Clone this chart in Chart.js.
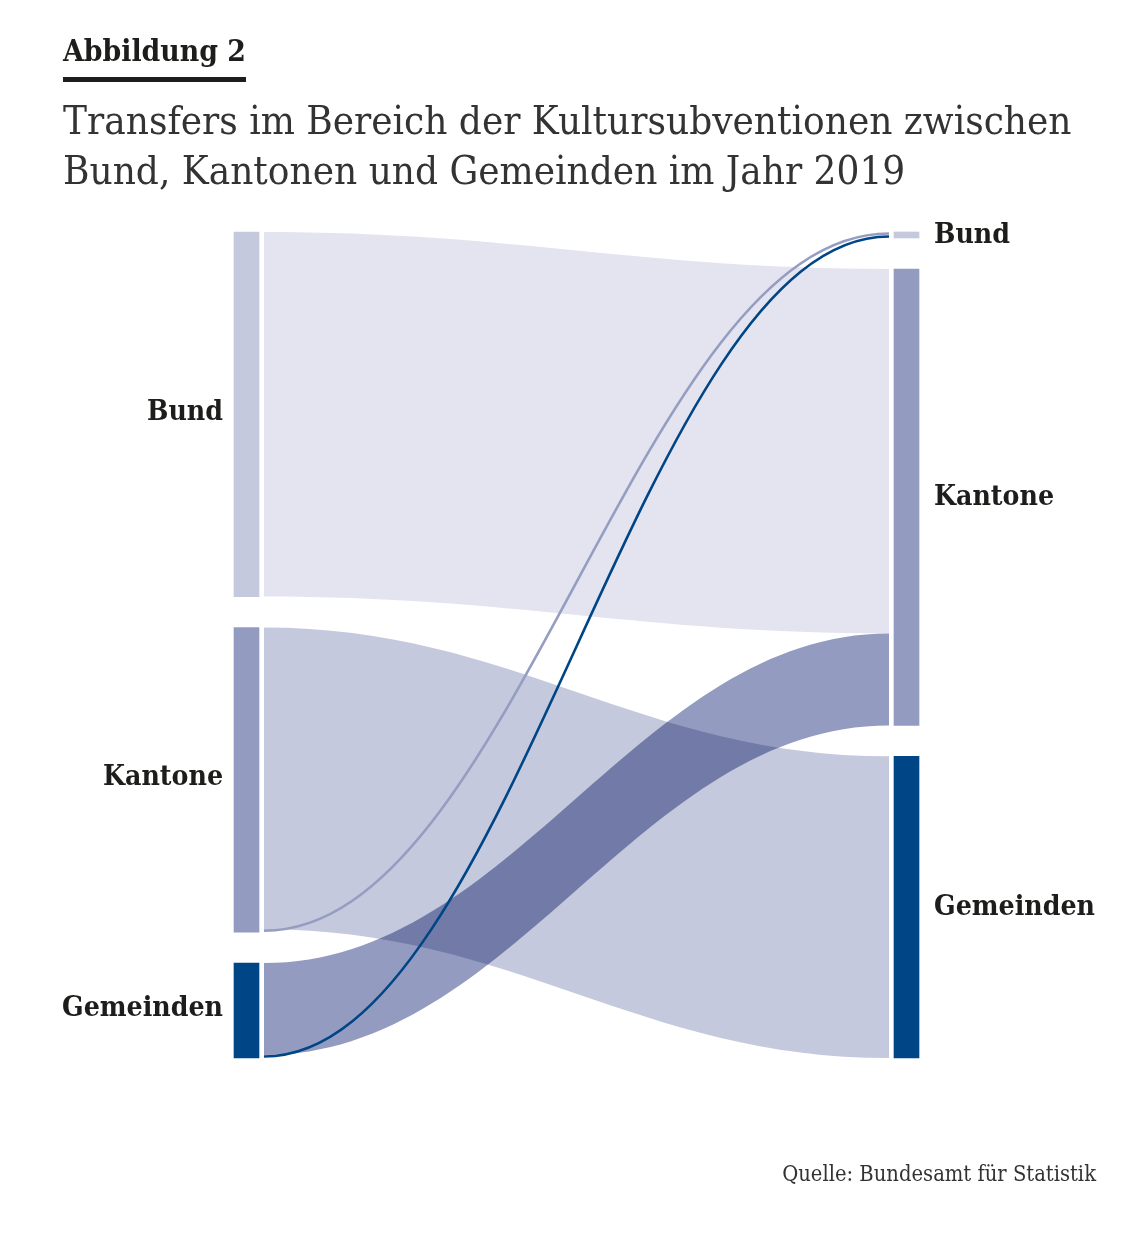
<!DOCTYPE html>
<html><head><meta charset="utf-8">
<script src="https://cdn.jsdelivr.net/npm/chart.js@4/dist/chart.umd.min.js"></script>
<style>
html,body{margin:0;padding:0;background:#fff;overflow:hidden;width:1143px;height:1235px;}
#wrap{position:absolute;left:0;top:0;width:1143px;height:1235px;}
.t{position:absolute;white-space:nowrap;font-family:"DejaVu Serif Condensed","DejaVu Serif",serif;font-stretch:condensed;color:#1d1d1b;line-height:1;}
#head{left:63px;font-weight:bold;}
#rule{position:absolute;left:63px;top:77px;width:183px;height:5px;background:#1d1d1b;}
#l1,#l2{left:63px;color:#333;}
#src{color:#333;}
</style></head><body>
<div id="wrap"><canvas id="c" width="1143" height="1235"></canvas></div>
<div class="t" id="head">Abbildung 2</div>
<div id="rule"></div>
<div class="t" id="l1">Transfers im Bereich der Kultursubventionen zwischen</div>
<div class="t" id="l2">Bund, Kantonen und Gemeinden im Jahr 2019</div>
<div class="t" id="src">Quelle: Bundesamt für Statistik</div>
<script>
// ---- data ----
const columns = ['Quelle', 'Ziel'];
const nodes = ['Bund', 'Kantone', 'Gemeinden'];
const flowFrom = ['Bund', 'Kantone', 'Kantone', 'Gemeinden', 'Gemeinden'];
const flowTo = ['Kantone', 'Gemeinden', 'Bund', 'Kantone', 'Bund'];
const flowValue = [365, 302, 3, 92, 3];

// ---- styles ----
const nodeColors = ['#c5c9de', '#939cc0', '#004586'];
const flowColors = ['#e3e4f0', '#c5c9de', '#959dc1', '#939cc0', '#004586'];
const nodePad = 31;
const barW = 25, flowGap = 5, thinLimit = 5, curve = 0.4;
const labelFont = '"DejaVu Serif Condensed", "DejaVu Serif", serif';

// ---- layout (value units) ----
function columnLayout(side) {
  let y = 0;
  return nodes.map(n => {
    let v = 0;
    flowValue.forEach((val, k) => { if ((side === 'from' ? flowFrom[k] : flowTo[k]) === n) v += val; });
    const r = { y0: y, y1: y + v };
    y += v + nodePad;
    return r;
  });
}
const L = columnLayout('from');
const R = columnLayout('to');
const total = Math.max(L[L.length - 1].y1, R[R.length - 1].y1);
const srcOff = L.map(n => n.y0), tgtOff = R.map(n => n.y0);
const flows = flowValue.map((v, k) => {
  const si = nodes.indexOf(flowFrom[k]), ti = nodes.indexOf(flowTo[k]);
  const f = { s0: srcOff[si], s1: srcOff[si] + v, t0: tgtOff[ti], t1: tgtOff[ti] + v, v, k };
  srcOff[si] += v; tgtOff[ti] += v;
  return f;
});

function fitText(el, width) {
  el.style.fontSize = '100px';
  const w = el.getBoundingClientRect().width;
  const f = 100 * width / w;
  el.style.fontSize = f + 'px';
  return f;
}
function baseline(el, f, y) { el.style.top = (y - 0.846 * f) + 'px'; }
const head = document.getElementById('head');
baseline(head, fitText(head, 183), 61);
const l1 = document.getElementById('l1'), l2 = document.getElementById('l2');
const tf = fitText(l1, 1009); l2.style.fontSize = tf + 'px';
baseline(l1, tf, 134); baseline(l2, tf, 184);
const src = document.getElementById('src');
const sf = fitText(src, 314); baseline(src, sf, 1181);
src.style.left = (1096 - src.getBoundingClientRect().width) + 'px';

const sankeyPlugin = {
  id: 'sankeyFlows',
  beforeDatasetsDraw(chart) {
    const { ctx, scales: { x, y } } = chart;
    const xa = x.getPixelForValue(0) + barW / 2 + flowGap;
    const xb = x.getPixelForValue(1) - barW / 2 - flowGap;
    const c1 = xa + (xb - xa) * curve, c2 = xb - (xb - xa) * curve;
    ctx.save();
    ctx.globalCompositeOperation = 'multiply';
    flows.forEach(f => {
      if (f.v < thinLimit) return;
      const a0 = y.getPixelForValue(f.s0), a1 = y.getPixelForValue(f.s1);
      const b0 = y.getPixelForValue(f.t0), b1 = y.getPixelForValue(f.t1);
      ctx.beginPath();
      ctx.moveTo(xa, a0);
      ctx.bezierCurveTo(c1, a0, c2, b0, xb, b0);
      ctx.lineTo(xb, b1);
      ctx.bezierCurveTo(c2, b1, c1, a1, xa, a1);
      ctx.closePath();
      ctx.fillStyle = flowColors[f.k];
      ctx.fill();
    });
    ctx.restore();
    ctx.save();
    flows.forEach(f => {
      if (f.v >= thinLimit) return;
      const a = y.getPixelForValue((f.s0 + f.s1) / 2), b = y.getPixelForValue((f.t0 + f.t1) / 2);
      ctx.beginPath();
      ctx.moveTo(xa, a);
      ctx.bezierCurveTo(c1, a, c2, b, xb, b);
      ctx.strokeStyle = flowColors[f.k];
      ctx.lineWidth = 2.6;
      ctx.stroke();
    });
    ctx.restore();
  },
  afterDatasetsDraw(chart) {
    const { ctx, scales: { x, y } } = chart;
    ctx.save();
    ctx.font = 'bold 100px ' + labelFont;
    const fs = 100 * 161 / ctx.measureText('Gemeinden').width;
    ctx.font = 'bold ' + fs + 'px ' + labelFont;
    ctx.fillStyle = '#1d1d1b';
    ctx.textBaseline = 'middle';
    const xl = x.getPixelForValue(0) - barW / 2 - 11;
    const xr = x.getPixelForValue(1) + barW / 2 + 15;
    nodes.forEach((n, i) => {
      ctx.textAlign = 'right';
      ctx.fillText(n, xl, y.getPixelForValue((L[i].y0 + L[i].y1) / 2) - 2);
      ctx.textAlign = 'left';
      ctx.fillText(n, xr, y.getPixelForValue((R[i].y0 + R[i].y1) / 2) + 1);
    });
    ctx.restore();
  }
};

new Chart(document.getElementById('c'), {
  type: 'bar',
  data: {
    labels: columns,
    datasets: nodes.map((n, i) => ({
      label: n,
      data: [[L[i].y0, L[i].y1], [R[i].y0, R[i].y1]],
      backgroundColor: nodeColors[i],
      borderWidth: 0,
      barThickness: barW,
      grouped: false,
      clip: false
    }))
  },
  options: {
    responsive: false,
    animation: false,
    events: [],
    layout: { padding: { left: 246.5, right: 236.5, top: 232, bottom: 177 } },
    scales: {
      x: { type: 'category', offset: false, display: false },
      y: { type: 'linear', reverse: true, min: 0, max: total, display: false }
    },
    plugins: { legend: { display: false }, tooltip: { enabled: false }, title: { display: false } }
  },
  plugins: [sankeyPlugin]
});
</script>
</body></html>
